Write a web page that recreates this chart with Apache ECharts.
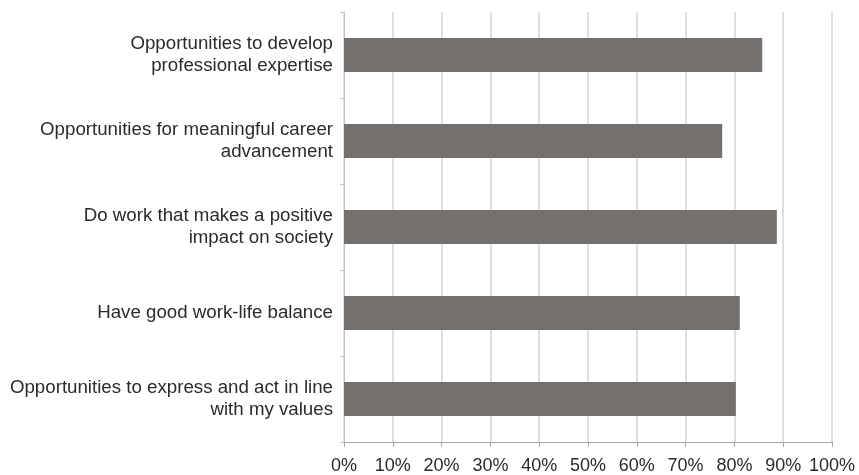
<!DOCTYPE html>
<html>
<head>
<meta charset="utf-8">
<script src="https://cdn.jsdelivr.net/npm/echarts@6/dist/echarts.min.js"></script>
<style>html,body{margin:0;padding:0;background:#fff;}#c{width:859px;height:475px;}</style>
</head>
<body>
<div id="c"></div>
<script>
const categories = [
  "Opportunities to develop\nprofessional expertise",
  "Opportunities for meaningful career\nadvancement",
  "Do work that makes a positive\nimpact on society",
  "Have good work-life balance",
  "Opportunities to express and act in line\nwith my values"
];
const values = [85.7, 77.5, 88.7, 81.1, 80.3];
const xTicks = [0, 10, 20, 30, 40, 50, 60, 70, 80, 90, 100];

const chart = echarts.init(document.getElementById('c'));
chart.setOption({
  animation: false,
  backgroundColor: '#ffffff',
  grid: { left: 344, right: 27, top: 12, bottom: 33 },
  xAxis: {
    type: 'value',
    min: xTicks[0],
    max: xTicks[xTicks.length - 1],
    interval: 10,
    axisLine: { show: true, lineStyle: { color: '#a8a8a8', width: 1 } },
    axisTick: { show: true, length: 5, lineStyle: { color: '#a8a8a8' } },
    axisLabel: { formatter: v => v + '%', color: '#2b2b2b', fontSize: 18, fontFamily: 'Liberation Sans, Arial, sans-serif', margin: 15 },
    splitLine: { show: true, lineStyle: { color: '#d6d3d3', width: 1.5 } }
  },
  yAxis: {
    type: 'category',
    inverse: true,
    data: categories,
    axisLine: { show: true, lineStyle: { color: '#c4c4c4', width: 1 } },
    axisTick: { show: true, length: 4, lineStyle: { color: '#c4c4c4' } },
    axisLabel: { color: '#2b2b2b', fontSize: 18.7, lineHeight: 22.5, align: 'right', margin: 11, fontFamily: 'Liberation Sans, Arial, sans-serif' }
  },
  series: [{
    type: 'bar',
    data: values,
    barWidth: 34,
    itemStyle: { color: '#74706e' }
  }]
});
</script>
</body>
</html>
